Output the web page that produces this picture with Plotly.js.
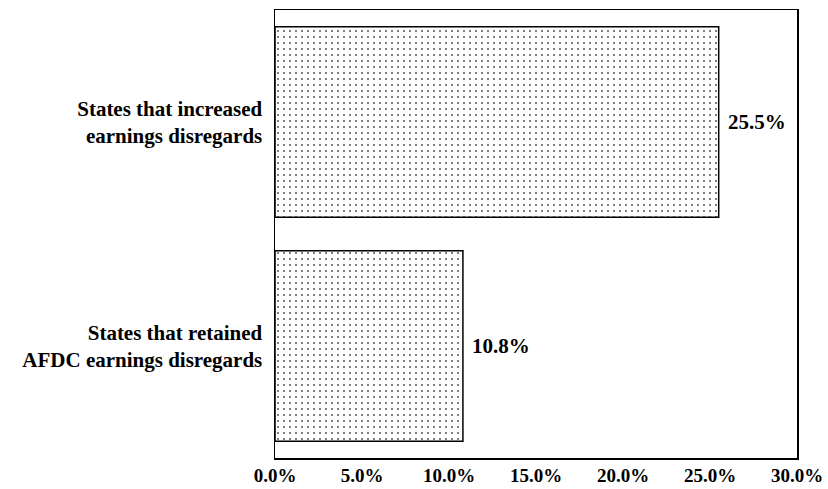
<!DOCTYPE html>
<html>
<head>
<meta charset="utf-8">
<script src="https://cdn.plot.ly/plotly-3.0.1.min.js"></script>
<style>html,body{margin:0;padding:0;background:#fff;}#chart{width:828px;height:489px;}</style>
</head>
<body>
<div id="chart"></div>
<script>
const categories = ["States that increased<br>earnings disregards", "States that retained<br>AFDC earnings disregards"];
const values = [25.5, 10.8];
const valueLabels = ["25.5%", "10.8%"];
const tickVals = [0, 5, 10, 15, 20, 25, 30];
const tickLabels = ["0.0%", "5.0%", "10.0%", "15.0%", "20.0%", "25.0%", "30.0%"];

const fam = "Liberation Serif, Times New Roman, serif";

const trace = {
  type: "bar",
  orientation: "h",
  y: categories,
  x: values,
  width: 0.85,
  marker: {
    color: "#ffffff",
    line: {color: "#000", width: 1.5},
    pattern: {shape: ".", fgcolor: "#555", bgcolor: "#fff", size: 6, solidity: 0.09}
  },
  hoverinfo: "skip"
};

const annotations = values.map((v, i) => ({
  x: v, y: categories[i], xref: "x", yref: "y",
  text: valueLabels[i], showarrow: false,
  xanchor: "left", yanchor: "middle", xshift: 7,
  font: {family: fam, size: 21, color: "#000", weight: "bold"}
}));

const layout = {
  width: 828, height: 489,
  margin: {l: 275, r: 31, t: 10, b: 31},
  paper_bgcolor: "#fff", plot_bgcolor: "#fff",
  showlegend: false,
  font: {family: fam, size: 20, color: "#000"},
  annotations: annotations,
  xaxis: {
    range: [0, 30],
    tickvals: tickVals, ticktext: tickLabels,
    showgrid: false, zeroline: false,
    showline: true, mirror: true, linecolor: "#000", linewidth: 1.5,
    ticks: "",
    ticklabelstandoff: 0,
    tickfont: {family: fam, size: 19, color: "#000", weight: "bold"},
    fixedrange: true
  },
  yaxis: {
    autorange: "reversed",
    showgrid: false, zeroline: false,
    showline: true, mirror: true, linecolor: "#000", linewidth: 1.5,
    ticks: "",
    ticklabelstandoff: 7,
    tickfont: {family: fam, size: 21, color: "#000", weight: "bold"},
    fixedrange: true
  }
};

Plotly.newPlot("chart", [trace], layout, {displayModeBar: false, staticPlot: true});
</script>
</body>
</html>
